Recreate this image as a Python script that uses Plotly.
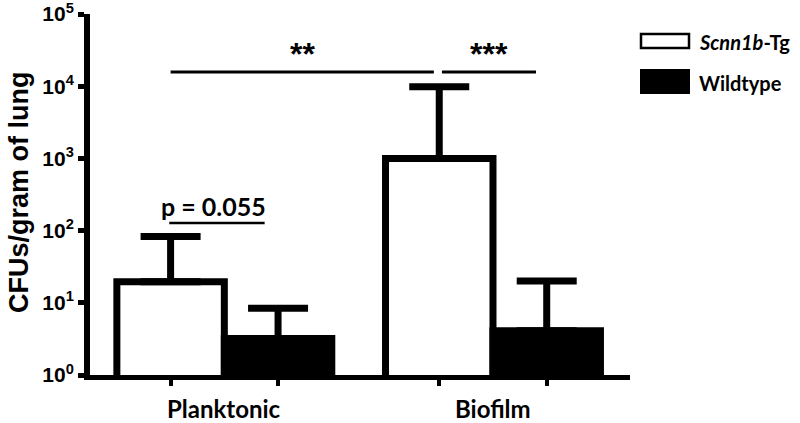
import plotly.graph_objects as go

# ---- data ----
categories = ["Planktonic", "Biofilm"]
series_names = ["<i>Scnn1b</i>-Tg", "Wildtype"]
tg_values = [19.5, 1000]
tg_err_top = [83, 9800]
wt_values = [3.2, 4.1]
wt_err_top = [8.4, 20]
y_tickvals = [1, 10, 100, 1000, 10000, 100000]
y_ticktext = ["<b>10<sup>0</sup></b>", "<b>10<sup>1</sup></b>", "<b>10<sup>2</sup></b>",
              "<b>10<sup>3</sup></b>", "<b>10<sup>4</sup></b>", "<b>10<sup>5</sup></b>"]
sig_labels = ["**", "***"]
p_label = "p = 0.055"

# ---- layout geometry ----
W, H = 800, 423
ML, MR, MT, MB = 90, 170, 14, 48
PW, PH = W - ML - MR, H - MT - MB
BARGAP = 0.2
bar_w = (1 - BARGAP) / 2


def px_x(x):
    return (x - ML) / PW


def px_y(y):
    return (H - MB - y) / PH


LBL_FONT = "Lato, 'Open Sans', sans-serif"
AX_FONT = "Arial, 'Liberation Sans', sans-serif"

fig = go.Figure()
fig.add_trace(go.Bar(
    x=categories, y=tg_values, name=series_names[0],
    marker=dict(color="white", line=dict(color="black", width=7)),
    error_y=dict(type="data", symmetric=False,
                 array=[t - v for t, v in zip(tg_err_top, tg_values)],
                 arrayminus=[0] * len(tg_values),
                 color="black", thickness=7, width=30),
))
fig.add_trace(go.Bar(
    x=categories, y=wt_values, name=series_names[1],
    marker=dict(color="black", line=dict(color="black", width=7)),
    error_y=dict(type="data", symmetric=False,
                 array=[t - v for t, v in zip(wt_err_top, wt_values)],
                 arrayminus=[0] * len(wt_values),
                 color="black", thickness=7, width=30),
))

# tick positions at bar centres
bar_centres = []
for i in range(len(categories)):
    bar_centres += [i - bar_w / 2, i + bar_w / 2]

shapes = []
annotations = []

# significance lines (paper y)
sig_y = px_y(72)
line1 = (bar_centres[0], bar_centres[2] - 0.02)
line2 = (bar_centres[2] + 0.01, bar_centres[3] - 0.04)
for (x0, x1), lab in zip([line1, line2], sig_labels):
    shapes.append(dict(type="line", xref="x", yref="paper", x0=x0, x1=x1,
                       y0=sig_y, y1=sig_y, line=dict(color="black", width=3)))
    annotations.append(dict(x=(x0 + x1) / 2, xref="x", y=sig_y, yref="paper",
                            text="<b>" + lab + "</b>", showarrow=False,
                            xanchor="center", yanchor="bottom", yshift=-2,
                            font=dict(family=AX_FONT, size=32, color="black")))

# p-value text with underline
p_x = -0.04
annotations.append(dict(x=p_x, xref="x", y=px_y(206), yref="paper",
                        text="<b>" + p_label + "</b>", showarrow=False,
                        xanchor="center", yanchor="middle",
                        font=dict(family=LBL_FONT, size=25, color="black")))
shapes.append(dict(type="line", xref="x", yref="paper", x0=p_x - 0.165, x1=p_x + 0.19,
                   y0=px_y(223), y1=px_y(223), line=dict(color="black", width=2.5)))

# category labels
for c in categories:
    annotations.append(dict(x=c, xref="x", y=px_y(408), yref="paper",
                            text="<b>" + c + "</b>", showarrow=False,
                            xanchor="center", yanchor="middle",
                            font=dict(family=LBL_FONT, size=24, color="black")))

# y-axis title
annotations.append(dict(x=px_x(19), xref="paper", y=px_y(192), yref="paper",
                        text="<b>CFUs/gram of lung</b>", showarrow=False, textangle=-90,
                        xanchor="center", yanchor="middle",
                        font=dict(family=AX_FONT, size=27, color="black")))

# custom legend
shapes.append(dict(type="rect", xref="paper", yref="paper",
                   x0=px_x(641), x1=px_x(689), y0=px_y(34), y1=px_y(48),
                   fillcolor="white", line=dict(color="black", width=2.5)))
shapes.append(dict(type="rect", xref="paper", yref="paper",
                   x0=px_x(640), x1=px_x(690), y0=px_y(69), y1=px_y(94),
                   fillcolor="black", line=dict(color="black", width=0)))
for name, yc in zip(series_names, [42, 83]):
    annotations.append(dict(x=px_x(697), xref="paper", y=px_y(yc), yref="paper",
                            text="<b>" + name + "</b>", showarrow=False,
                            xanchor="left", yanchor="middle",
                            font=dict(family=LBL_FONT, size=20, color="black")))

fig.update_layout(
    width=W, height=H,
    margin=dict(l=ML, r=MR, t=MT, b=MB, autoexpand=False),
    paper_bgcolor="white", plot_bgcolor="white",
    barmode="group", bargap=BARGAP, bargroupgap=0,
    showlegend=False,
    shapes=shapes, annotations=annotations,
    xaxis=dict(range=[-0.5, 1.51], showline=True, linecolor="black", linewidth=5,
               showgrid=False, zeroline=False, automargin=False,
               tickmode="array", tickvals=bar_centres, showticklabels=False,
               ticks="outside", ticklen=6, tickwidth=4, tickcolor="black"),
    yaxis=dict(type="log", range=[0, 5], showline=True, linecolor="black", linewidth=6,
               showgrid=False, zeroline=False, automargin=False,
               tickmode="array", tickvals=y_tickvals, ticktext=y_ticktext,
               ticklabeloverflow="allow",
               ticks="outside", ticklen=6, tickwidth=5, tickcolor="black",
               tickfont=dict(family=AX_FONT, size=21, color="black")),
)

fig.write_html("out.html",
               config={"displayModeBar": False},
               post_script="document.body.style.margin='0px';document.body.style.overflow='hidden';")
